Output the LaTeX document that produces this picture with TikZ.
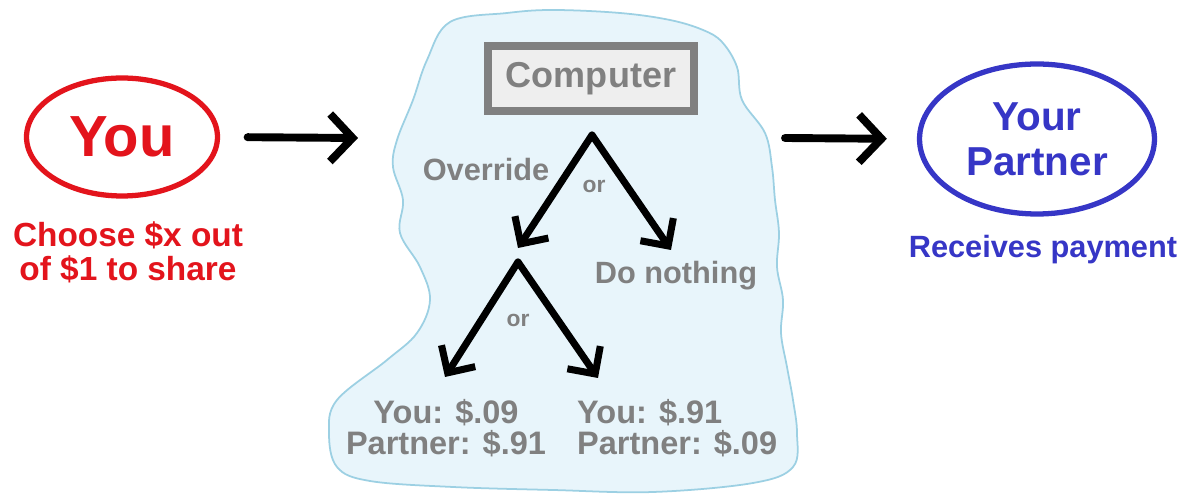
\documentclass[tikz,border=0pt]{standalone}
\usepackage{fontspec}
\setmainfont{Liberation Sans}
\usetikzlibrary{
  arrows.meta,
  calc,
  shapes
}
\definecolor{youred}{HTML}{E3141C}
\definecolor{partblue}{HTML}{3636C6}
\definecolor{compgray}{HTML}{808080}
\definecolor{boxfill}{HTML}{EEEEEE}
\definecolor{cloudfill}{HTML}{E8F5FB}
\definecolor{cloudedge}{HTML}{9CD0E3}
\tikzset{
  bigarrow/.style={-{Straight Barb[length=0.45cm,width=0.95cm]},line width=4.5pt,line cap=round,line join=round},
  treearrow/.style={-{Straight Barb[length=0.4cm,width=0.8cm]},line width=4pt,line cap=round,line join=round},
  graytext/.style={text=compgray,font=\bfseries\fontsize{17.5}{17.5}\selectfont},
  paytext/.style={text=compgray,font=\bfseries\fontsize{18.5}{18}\selectfont},
  ortext/.style={text=compgray,font=\bfseries\fontsize{13}{13}\selectfont}
}
\begin{document}
\begin{tikzpicture}[x=0.02cm,y=-0.02cm]
  \useasboundingbox (0,0) rectangle (1187,499);
  \fill[white] (0,0) rectangle (1187,499);
  \draw[cloudedge,fill=cloudfill,line width=1pt] plot[smooth cycle,tension=0.6] coordinates {
    (427,60) (450,22) (507,13) (553,10) (620,13) (670,20) (703,30) (722,42) (737,67)
    (742,100) (765,133) (772,167) (775,200) (779,233) (777,267) (783,300) (781,333)
    (787,367) (793,400) (797,433) (793,467) (753,483) (653,492) (553,490) (453,487)
    (370,481) (337,467) (329,433) (337,400) (387,360) (417,333) (430,300) (420,267)
    (400,233) (403,200) (393,167) (397,140) (413,100)};
  \node[draw=youred,line width=3pt,ellipse,inner sep=0pt,minimum width=3.82cm,minimum height=2.36cm,
    text=youred,font=\bfseries\fontsize{33}{33}\selectfont] (you) at (122,137) {You};
  \node[text=youred,align=center,font=\bfseries\fontsize{19}{19.5}\selectfont] (choose) at (128,252) {Choose \$x out\\of \$1 to share};
  \node[draw=compgray,fill=boxfill,line width=4.5pt,inner sep=0pt,minimum width=4.12cm,minimum height=1.3cm,
    text=compgray,font=\bfseries\fontsize{20.5}{20.5}\selectfont] (comp) at (591,78.5) {Computer};
  \node[draw=partblue,line width=3pt,ellipse,inner sep=0pt,minimum width=4.7cm,minimum height=3cm,align=center,
    text=partblue,font=\bfseries\fontsize{23}{25.5}\selectfont] (partner) at (1037,139) {Your\\Partner};
  \node[text=partblue,font=\bfseries\fontsize{17.5}{17.5}\selectfont] (receives) at (1043,250) {Receives payment};
  \coordinate (in) at (358,138);
  \coordinate (out) at (785,138);
  \draw[bigarrow,shorten <=0.55cm] (you.east) -- (in);
  \draw[bigarrow,shorten >=0.6cm] (out) -- (partner.west);
  \coordinate (top) at (592,135);
  \coordinate (l1) at (518,248);
  \coordinate (r1) at (671,250);
  \coordinate (mid) at (518,262);
  \coordinate (l2) at (445,377);
  \coordinate (r2) at (598,378);
  \draw[treearrow] (top) -- (l1);
  \draw[treearrow] (top) -- (r1);
  \draw[treearrow] (mid) -- (l2);
  \draw[treearrow] (mid) -- (r2);
  \node[graytext] (override) at (486,170) {Override};
  \node[ortext] (or1) at (594,186) {or};
  \node[ortext] (or2) at (518,320) {or};
  \node[graytext] (nothing) at (676,276) {Do nothing};
  \node[paytext,align=center] (payl) at (446,428) {You: \$.09\\Partner: \$.91};
  \node[paytext,align=left,anchor=west] (payr) at (571,428) {You: \$.91\\Partner: \$.09};
\end{tikzpicture}
\end{document}
